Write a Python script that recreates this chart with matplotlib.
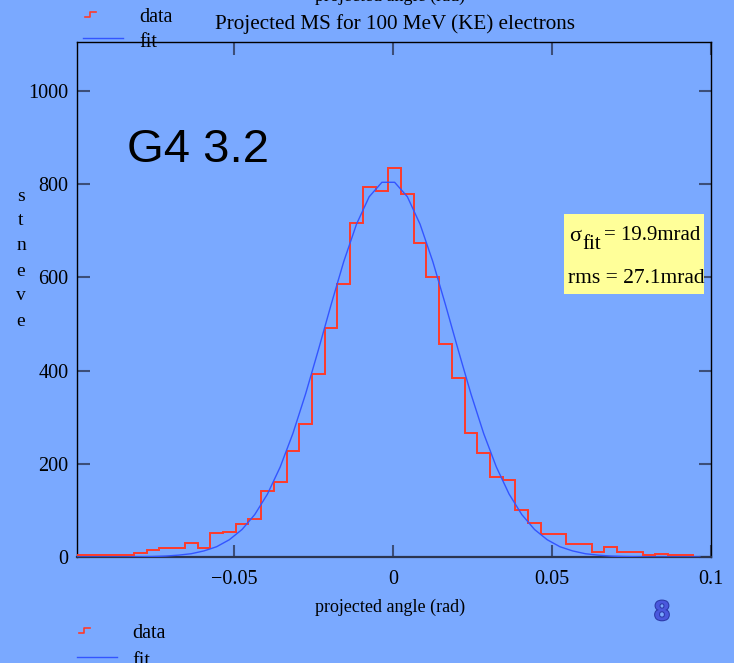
import numpy as np
import matplotlib
matplotlib.use("Agg")
import matplotlib.pyplot as plt
from matplotlib.lines import Line2D
from matplotlib.patches import Rectangle
import matplotlib.patheffects as pe

# histogram of projected angle, 4 mrad bins starting at -0.1015 rad
bin_lo = -0.1015
bin_width = 0.004
counts = [4, 4, 4, 4, 4, 9, 15, 19, 19, 30, 19, 51, 54, 71, 81, 141, 161,
          227, 285, 393, 492, 585, 716, 793, 785, 835, 778, 674, 600, 458,
          385, 265, 224, 172, 165, 101, 74, 49, 49, 27, 27, 11, 22, 11, 11,
          4, 7, 4, 4]

# gaussian fit sampled at bin centres
fit_half = [0, 0, 0, 0, 0, 0.5, 1, 2, 4, 7, 13, 22, 37, 59, 91, 135, 193,
            265, 350, 444, 541, 634, 714, 773, 804]
fit_y = fit_half + fit_half[::-1]
fit_x = bin_lo + bin_width / 2 + bin_width * np.arange(len(fit_y))

xticks = [-0.05, 0, 0.05, 0.1]
xtick_labels = ["\u22120.05", "0", "0.05", "0.1"]
yticks = [0, 200, 400, 600, 800, 1000]

title = "Projected MS for 100 MeV (KE) electrons"
xlabel = "projected angle (rad)"
ylabel = "events"
sigma_fit = 19.9
rms = 27.1

W, H = 734, 663
bg = "#7aa9ff"
tickcol = "#3c4e78"
serif = ["Liberation Serif", "DejaVu Serif"]
sans = ["Liberation Sans", "DejaVu Sans"]


def px(x, y):
    return x / W, 1 - y / H


fig = plt.figure(figsize=(W / 100, H / 100), dpi=100, facecolor=bg)
ax = fig.add_axes([77 / W, 1 - 557 / H, (711 - 77) / W, (557 - 42) / H])
ax.set_facecolor(bg)

edges = bin_lo + bin_width * np.arange(len(counts) + 1)
ax.stairs(counts, edges, color="#ff3b2a", lw=1.4, baseline=None, zorder=3)
ax.plot(fit_x, fit_y, color="#3355ff", lw=1.0, zorder=4)

ax.set_xlim(-0.0994, 0.1)
ax.set_ylim(0, 1105)
ax.set_xticks(xticks)
ax.set_xticklabels(xtick_labels)
ax.set_yticks(yticks)
ax.tick_params(direction="in", length=9, width=1.5, color=tickcol,
               top=True, right=True, labelsize=14.5)
ax.tick_params(axis="x", pad=9)
ax.tick_params(axis="y", pad=6)
for lab in ax.get_xticklabels() + ax.get_yticklabels():
    lab.set_family(serif)
for s in ax.spines.values():
    s.set_color("black")
    s.set_linewidth(1.0)
ax.spines["bottom"].set_color("#2b3550")
ax.spines["bottom"].set_linewidth(1.6)

# titles and labels
fig.text(*px(395, 29), title, ha="center", va="baseline", fontsize=15.2,
         family=serif)
fig.text(*px(390, 1), xlabel, ha="center", va="baseline", fontsize=13,
         family=serif)
fig.text(*px(390, 612), xlabel, ha="center", va="baseline", fontsize=13,
         family=serif)
for i, ch in enumerate(ylabel[::-1]):
    fig.text(*px(21, 196 + 25 * i), ch, ha="center", va="center",
             fontsize=14, family=serif)

fig.text(*px(127, 162), "G4 3.2", ha="left", va="baseline", fontsize=34,
         family=sans)

# stats box
fig.patches.append(Rectangle(px(564, 293.5), (703.5 - 564) / W, 79.5 / H,
                             transform=fig.transFigure, facecolor="#ffff99",
                             edgecolor="none", zorder=5))
fig.text(*px(569, 241), "\u03c3", ha="left", va="baseline", fontsize=16,
         family=serif, zorder=6)
fig.text(*px(582, 249), "fit", ha="left", va="baseline", fontsize=15,
         family=serif, zorder=6)
fig.text(*px(604, 240), "= %.1fmrad" % sigma_fit, ha="left", va="baseline",
         fontsize=15, family=serif, zorder=6)
fig.text(*px(568, 283), "rms = %.1fmrad" % rms, ha="left", va="baseline",
         fontsize=15.5, family=serif, zorder=6)

# legends (top, partly hidden, and bottom)
for (yd, yf, x0, xt) in [(14.5, 38, 83, 139), (630, 657, 77, 132)]:
    fig.add_artist(Line2D([(x0 + 2) / W, (x0 + 7) / W, (x0 + 7) / W, (x0 + 13) / W],
                          [1 - (yd + 2.5) / H, 1 - (yd + 2.5) / H,
                           1 - (yd - 2.5) / H, 1 - (yd - 2.5) / H],
                          transform=fig.transFigure, color="#ff3b2a", lw=1.2))
    fig.add_artist(Line2D([x0 / W, (x0 + 40) / W], [1 - yf / H, 1 - yf / H],
                          transform=fig.transFigure, color="#3355ff", lw=1.0))
    fig.text(*px(xt, yd + 8), "data", ha="left", va="baseline", fontsize=14.5,
             family=serif)
    fig.text(*px(xt, yf + 9), "fit", ha="left", va="baseline", fontsize=14.5,
             family=serif)

fig.text(*px(662, 620), "8", ha="center", va="baseline", fontsize=20,
         fontweight="bold", family=sans, color="#4a58dd",
         path_effects=[pe.withStroke(linewidth=1.5, foreground="#2c3aa8")])

fig.savefig("out.png", dpi=100, facecolor=bg)
